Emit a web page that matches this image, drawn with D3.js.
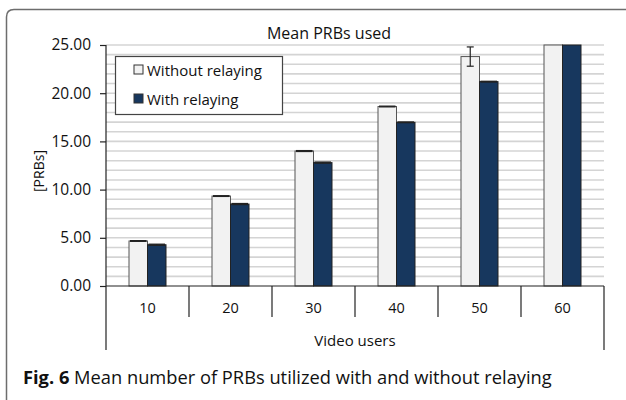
<!DOCTYPE html>
<html>
<head>
<meta charset="utf-8">
<script src="https://cdn.jsdelivr.net/npm/d3@7"></script>
<style>
  html, body { margin: 0; padding: 0; background: #fff; }
  svg { display: block; font-family: "Open Sans", "Noto Sans", sans-serif; }
</style>
</head>
<body>
<svg id="chart" width="626" height="400"></svg>
<script>
// Mean PRBs used vs. number of video users
const categories = ["10", "20", "30", "40", "50", "60"];
const seriesNames = ["Without relaying", "With relaying"];
const withoutRelaying = [4.67, 9.33, 14.0, 18.62, 23.8, 25.0];
const withRelaying = [4.28, 8.5, 12.8, 16.98, 21.2, 25.0];
const errWithout = [0.04, 0.04, 0.05, 0.04, 1.0, 0.0];
const errWith = [0.06, 0.06, 0.06, 0.04, 0.04, 0.0];
const yTicks = [0, 5, 10, 15, 20, 25];
const seriesColors = ["#f2f2f2", "#17375e"];

const svg = d3.select("#chart");

// outer figure frame (rounded top-left corner, open to the right and bottom)
svg.append("path")
  .attr("d", "M6.5,400 L6.5,17 Q6.5,9.5 14,9.5 L626,9.5")
  .attr("fill", "none").attr("stroke", "#6d6d6d").attr("stroke-width", 1.5);

const plot = { left: 106, right: 604, top: 45, bottom: 286 };

const x0 = d3.scaleBand().domain(categories).range([plot.left, plot.right]);
const x1 = d3.scaleBand().domain([0, 1]).range([0, 37]);
const y = d3.scaleLinear().domain([0, 25]).range([plot.bottom, plot.top]);

// horizontal gridlines every 1 PRB
const g = svg.append("g");
g.selectAll("line.grid").data(d3.range(1, 26)).join("line")
  .attr("class", "grid")
  .attr("x1", plot.left).attr("x2", plot.right)
  .attr("y1", d => y(d)).attr("y2", d => y(d))
  .attr("stroke", "#d4d4d4").attr("stroke-width", 1.6);

// bars
const series = [withoutRelaying, withRelaying];
const errs = [errWithout, errWith];
series.forEach((vals, si) => {
  svg.append("g").selectAll("rect").data(vals).join("rect")
    .attr("x", (d, i) => x0(categories[i]) + (x0.bandwidth() - 37) / 2 + x1(si))
    .attr("width", x1.bandwidth())
    .attr("y", d => y(d))
    .attr("height", d => y(0) - y(d))
    .attr("fill", seriesColors[si])
    .attr("stroke", si === 0 ? "#555" : "#222")
    .attr("stroke-width", 1);
});

// error bars
series.forEach((vals, si) => {
  const eg = svg.append("g").attr("stroke", "#222").attr("stroke-width", 1.2);
  vals.forEach((v, i) => {
    const e = errs[si][i];
    if (e <= 0) return;
    const cx = x0(categories[i]) + (x0.bandwidth() - 37) / 2 + x1(si) + x1.bandwidth() / 2;
    const cw = e > 0.5 ? 3.5 : x1.bandwidth() / 2 - 1;
    eg.append("line").attr("x1", cx).attr("x2", cx).attr("y1", y(v + e)).attr("y2", y(v - e));
    eg.append("line").attr("x1", cx - cw).attr("x2", cx + cw).attr("y1", y(v + e)).attr("y2", y(v + e));
    eg.append("line").attr("x1", cx - cw).attr("x2", cx + cw).attr("y1", y(v - e)).attr("y2", y(v - e));
  });
});

// y axis
const yAxis = d3.axisLeft(y).tickValues(yTicks).tickFormat(d3.format(".2f")).tickSize(6).tickPadding(9);
const ya = svg.append("g").attr("transform", `translate(${plot.left},0)`).call(yAxis);
ya.select(".domain").remove();
ya.selectAll(".tick line").attr("stroke", "#222").attr("stroke-width", 1.2);
ya.selectAll(".tick text").attr("font-size", 15.5).attr("fill", "#111")
  .attr("font-family", "Open Sans, sans-serif");

// axis frame lines
const ax = svg.append("g").attr("stroke", "#222").attr("stroke-width", 1.2);
ax.append("line").attr("x1", plot.left).attr("x2", plot.left).attr("y1", plot.top).attr("y2", 350);
ax.append("line").attr("x1", plot.left).attr("x2", plot.right).attr("y1", plot.bottom).attr("y2", plot.bottom);
ax.append("line").attr("x1", plot.right).attr("x2", plot.right).attr("y1", plot.bottom).attr("y2", 350);
categories.slice(1).forEach(c => {
  ax.append("line").attr("x1", x0(c)).attr("x2", x0(c)).attr("y1", plot.bottom).attr("y2", 317);
});

// category labels
svg.append("g").selectAll("text").data(categories).join("text")
  .attr("x", d => x0(d) + x0.bandwidth() / 2)
  .attr("y", 313)
  .attr("text-anchor", "middle")
  .attr("font-size", 14.5).attr("fill", "#111")
  .text(d => d);

// axis titles
svg.append("text").attr("x", (plot.left + plot.right) / 2).attr("y", 346)
  .attr("text-anchor", "middle").attr("font-size", 15).attr("fill", "#111").text("Video users");
svg.append("text").attr("transform", "translate(44,171) rotate(-90)")
  .attr("text-anchor", "middle").attr("font-size", 14).attr("fill", "#111").text("[PRBs]");

// chart title
svg.append("text").attr("x", 329).attr("y", 39).attr("text-anchor", "middle")
  .attr("font-size", 16).attr("fill", "#111").text("Mean PRBs used");

// legend
const lg = svg.append("g");
lg.append("rect").attr("x", 115.5).attr("y", 56.5).attr("width", 167).attr("height", 58)
  .attr("fill", "#fff").attr("stroke", "#444").attr("stroke-width", 1.2);
seriesNames.forEach((name, i) => {
  const yy = 70 + i * 29;
  lg.append("rect").attr("x", 134).attr("y", yy - 5).attr("width", 9).attr("height", 9)
    .attr("fill", seriesColors[i]).attr("stroke", "#333").attr("stroke-width", 1);
  lg.append("text").attr("x", 147).attr("y", yy + 5.5).attr("font-size", 15).attr("fill", "#111").text(name);
});

// figure caption
const cap = svg.append("text").attr("x", 23).attr("y", 384).attr("font-size", 18.3).attr("fill", "#111");
cap.append("tspan").attr("font-weight", "bold").text("Fig. 6");
cap.append("tspan").text(" Mean number of PRBs utilized with and without relaying");
</script>
</body>
</html>
